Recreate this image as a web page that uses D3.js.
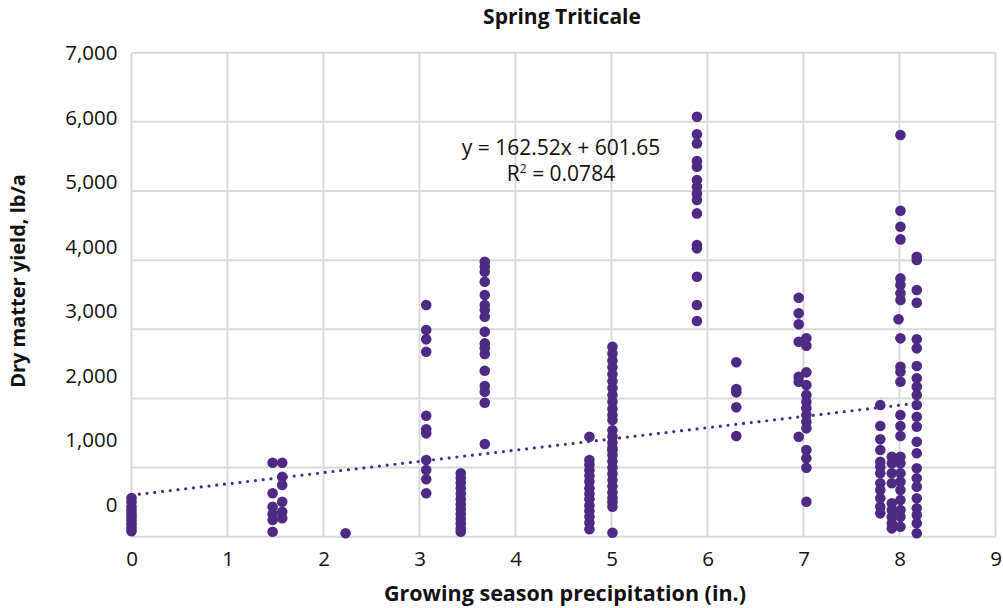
<!DOCTYPE html>
<html>
<head>
<meta charset="utf-8">
<script src="https://cdn.jsdelivr.net/npm/d3@7"></script>
<style>
  html, body { margin: 0; padding: 0; background: #fff; }
  svg { display: block; }
  text { font-family: "Open Sans", "Noto Sans", sans-serif; fill: #111; }
</style>
</head>
<body>
<svg id="chart" width="1003" height="608"></svg>
<script>
// ---- Data ----
const title = "Spring Triticale";
const xTitle = "Growing season precipitation (in.)";
const yTitle = "Dry matter yield, lb/a";
const xTicks = [0, 1, 2, 3, 4, 5, 6, 7, 8, 9];
const yTicks = [0, 1000, 2000, 3000, 4000, 5000, 6000, 7000];
const trendSlope = 162.52;
const trendIntercept = 601.65;
const trendLabel = "y = 162.52x + 601.65";
const r2Label = "0.0784";

// precipitation (x) and yield (y) per observation group
const px00 = [0, 0, 0, 0, 0, 0, 0, 0, 0, 0];
const py00 = [80, 130, 180, 230, 280, 330, 380, 430, 500, 560];
const px14 = [1.47, 1.47, 1.47, 1.47, 1.47, 1.47];
const py14 = [1070, 628, 434, 328, 241, 72];
const px15 = [1.57, 1.57, 1.57, 1.57, 1.57, 1.57];
const py15 = [1070, 868, 748, 506, 361, 266];
const px22 = [2.23];
const py22 = [50];
const px30 = [3.07, 3.07, 3.07, 3.07, 3.07, 3.07, 3.07, 3.07, 3.07, 3.07, 3.07];
const py30 = [3350, 2989, 2854, 2675, 1750, 1553, 1495, 1109, 964, 830, 628];
const px34 = [3.43, 3.43, 3.43, 3.43, 3.43, 3.43, 3.43, 3.43, 3.43, 3.43, 3.43, 3.43, 3.43];
const py34 = [917, 850, 780, 700, 620, 540, 470, 400, 330, 260, 190, 120, 72];
const px36 = [3.68, 3.68, 3.68, 3.68, 3.68, 3.68, 3.68, 3.68, 3.68, 3.68, 3.68, 3.68, 3.68, 3.68, 3.68, 3.68, 3.68];
const py36 = [3977, 3904, 3832, 3687, 3495, 3350, 3278, 3181, 2964, 2796, 2724, 2642, 2400, 2179, 2097, 1938, 1340];
const px47 = [4.77, 4.77, 4.77, 4.77, 4.77, 4.77, 4.77, 4.77, 4.77, 4.77, 4.77, 4.77, 4.77, 4.77];
const py47 = [1446, 1109, 1040, 960, 880, 800, 700, 620, 540, 450, 370, 290, 200, 107];
const px50 = [5.01, 5.01, 5.01, 5.01, 5.01, 5.01, 5.01, 5.01, 5.01, 5.01, 5.01, 5.01, 5.01, 5.01, 5.01,
              5.01, 5.01, 5.01, 5.01, 5.01, 5.01, 5.01, 5.01, 5.01, 5.01, 5.01, 5.01, 5.01];
const py50 = [2748, 2650, 2550, 2450, 2350, 2250, 2150, 2050, 1950, 1850, 1760, 1688,
              1540, 1450, 1360, 1283, 1180, 1090, 1000, 910, 820, 730, 640, 560, 500, 434, 58, 1250];
const px58 = [5.89, 5.89, 5.89, 5.89, 5.89, 5.89, 5.89, 5.89, 5.89, 5.89, 5.89, 5.89, 5.89, 5.89, 5.89];
const py58 = [6073, 5819, 5688, 5433, 5350, 5158, 5061, 4965, 4869, 4676, 4218, 4170, 3760, 3350, 3119];
const px63 = [6.3, 6.3, 6.3, 6.3, 6.3];
const py63 = [2522, 2136, 2088, 1871, 1456];
const px69 = [6.95, 6.95, 6.95, 6.95, 6.95, 6.95, 6.95];
const py69 = [3456, 3230, 3071, 2820, 2314, 2241, 1446];
const px70 = [7.03, 7.03, 7.03, 7.03, 7.03, 7.03, 7.03, 7.03, 7.03, 7.03, 7.03, 7.03, 7.03, 7.03];
const py70 = [2869, 2762, 2377, 2194, 2049, 1952, 1857, 1760, 1663, 1567, 1254, 1134, 998, 506];
const px78 = [7.8, 7.8, 7.8, 7.8, 7.8, 7.8, 7.8, 7.8, 7.8, 7.8, 7.8, 7.8];
const py78 = [1904, 1601, 1408, 1254, 1085, 1012, 917, 772, 675, 555, 434, 338];
const px79 = [7.92, 7.92, 7.92, 7.92, 7.92, 7.92, 7.92, 7.92, 7.92];
const py79 = [1157, 1061, 917, 772, 483, 386, 289, 194, 121];
const px80 = [8.01, 8.01, 8.01, 8.01, 8.01, 8.01, 8.01, 8.01, 7.99, 8.01, 8.01, 8.01, 8.01, 8.01,
              8.01, 8.01, 8.01, 8.01, 8.01, 8.01, 8.01, 8.01, 8.01, 8.01, 8.01];
const py80 = [5809, 4714, 4483, 4300, 3736, 3640, 3520, 3423, 3144, 2869, 2459, 2386, 2241, 1760,
              1601, 1456, 1157, 1061, 917, 795, 675, 531, 386, 289, 145];
const px82 = [8.18, 8.18, 8.18, 8.18, 8.18, 8.18, 8.18, 8.18, 8.18, 8.18, 8.18, 8.18,
              8.18, 8.18, 8.18, 8.18, 8.18, 8.18, 8.18, 8.18, 8.18, 8.18, 8.18];
const py82 = [4049, 4001, 3567, 3384, 2854, 2724, 2468, 2290, 2169, 2049, 1904, 1735,
              1591, 1374, 1206, 989, 844, 723, 555, 411, 314, 194, 49];

const groupsX = [px00, px14, px15, px22, px30, px34, px36, px47, px50, px58, px63, px69, px70, px78, px79, px80, px82];
const groupsY = [py00, py14, py15, py22, py30, py34, py36, py47, py50, py58, py63, py69, py70, py78, py79, py80, py82];

const points = [];
groupsX.forEach((gx, gi) => gx.forEach((xv, i) => points.push({ x: xv, y: groupsY[gi][i] })));

// ---- Layout ----
const color = "#4e2a84";
const gridColor = "#d9d9d9";
const svg = d3.select("#chart");
const mLeft = 131.5, mRight = 995.5, mTop = 52.7, mBottom = 536.7;

const x = d3.scaleLinear().domain([0, 9]).range([mLeft, mRight]);
const y = d3.scaleLinear().domain([0, 7000]).range([mBottom, mTop]);
// tick labels as positioned in the reference image
const yLab = d3.scaleLinear().domain([0, 7000]).range([505, 53]);

// gridlines
svg.append("g").selectAll("line").data(yTicks).join("line")
  .attr("x1", mLeft).attr("x2", mRight)
  .attr("y1", d => y(d)).attr("y2", d => y(d))
  .attr("stroke", gridColor).attr("stroke-width", 2);
svg.append("g").selectAll("line").data(xTicks).join("line")
  .attr("x1", d => x(d)).attr("x2", d => x(d))
  .attr("y1", mTop).attr("y2", mBottom)
  .attr("stroke", gridColor).attr("stroke-width", 2);

// x axis labels
const xAxis = svg.append("g").attr("transform", `translate(0,${mBottom})`)
  .call(d3.axisBottom(x).tickValues(xTicks).tickSize(0).tickPadding(15).tickFormat(d3.format("d")));
xAxis.select(".domain").remove();
xAxis.selectAll("text").style("font-size", "20.5px").style("font-family", "'Open Sans', sans-serif").attr("fill", "#111");

// y axis labels
const yAxis = svg.append("g").attr("transform", `translate(${mLeft - 14},0)`)
  .call(d3.axisLeft(yLab).tickValues(yTicks).tickSize(0).tickPadding(0).tickFormat(d3.format(",")));
yAxis.select(".domain").remove();
yAxis.selectAll("text").style("font-size", "20.5px").style("font-family", "'Open Sans', sans-serif").attr("fill", "#111");

// points
svg.append("g").selectAll("circle").data(points).join("circle")
  .attr("cx", d => x(d.x)).attr("cy", d => y(d.y)).attr("r", 5.3)
  .attr("fill", color);

// trendline (dotted)
const xMax = d3.max(points, d => d.x);
svg.append("line")
  .attr("x1", x(0)).attr("y1", y(trendIntercept))
  .attr("x2", x(xMax)).attr("y2", y(trendIntercept + trendSlope * xMax))
  .attr("stroke", color).attr("stroke-width", 3.2)
  .attr("stroke-linecap", "round").attr("stroke-dasharray", "0 7.8");

// equation
svg.append("text").attr("x", 561).attr("y", 155).attr("text-anchor", "middle")
  .style("font-size", "21px").text(trendLabel);
const r2 = svg.append("text").attr("x", 561).attr("y", 181).attr("text-anchor", "middle")
  .style("font-size", "21px");
r2.append("tspan").text("R");
r2.append("tspan").attr("dy", -8).style("font-size", "12px").text("2");
r2.append("tspan").attr("dy", 8).text(" = " + r2Label);

// titles
svg.append("text").attr("x", 562).attr("y", 24).attr("text-anchor", "middle")
  .style("font-size", "21px").style("font-weight", "bold").text(title);
svg.append("text").attr("x", 565).attr("y", 601).attr("text-anchor", "middle")
  .style("font-size", "21.5px").style("font-weight", "bold").text(xTitle);
svg.append("text").attr("transform", "translate(25,281) rotate(-90)").attr("text-anchor", "middle")
  .style("font-size", "20px").style("font-weight", "bold").text(yTitle);
</script>
</body>
</html>
